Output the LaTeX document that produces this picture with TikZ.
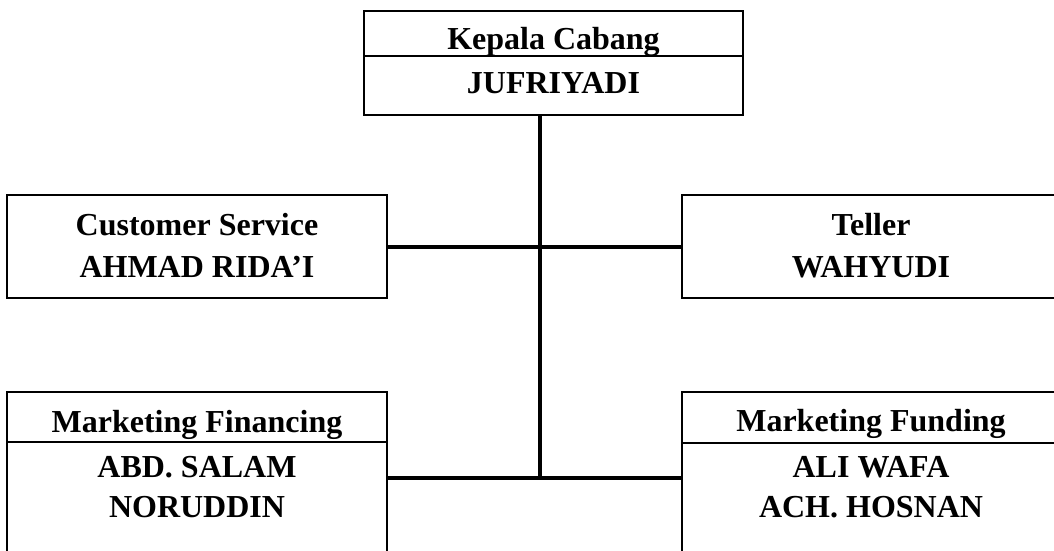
\documentclass[tikz,border=0pt]{standalone}
\usepackage{fontspec}
\setmainfont{Liberation Serif}
\usetikzlibrary{calc}

\begin{document}
\begin{tikzpicture}[x=1pt,y=-1pt,
		box/.style={draw,line width=1.6pt,inner sep=0pt,outer sep=0pt},
		link/.style={line width=4pt},
		lbl/.style={anchor=base,font=\bfseries\fontsize{32}{40}\selectfont,inner sep=0pt}]
		\useasboundingbox (0,0) rectangle (1054,551);
		\clip (0,0) rectangle (1054,551);
		% boxes
		\node[box,minimum width=379pt,minimum height=104pt] (kc) at (553.5,63) {};
		\node[box,minimum width=380pt,minimum height=103pt] (cs) at (197,246.5) {};
		\node[box,minimum width=378pt,minimum height=103pt] (teller) at (871,246.5) {};
		\node[box,minimum width=380pt,minimum height=172pt] (mfin) at (197,478) {};
		\node[box,minimum width=378pt,minimum height=172pt] (mfund) at (871,478) {};
		\draw[line width=1.6pt] ($(kc.north west)+(0,45)$)--($(kc.north east)+(0,45)$);
		\draw[line width=1.6pt] ($(mfin.north west)+(0,50)$)--($(mfin.north east)+(0,50)$);
		\draw[line width=1.6pt] ($(mfund.north west)+(0,51)$)--($(mfund.north east)+(0,51)$);
		% texts
		\node[lbl] (kc title) at (553.5,50) {Kepala Cabang};
		\node[lbl] (kc name) at (553.5,93) {JUFRIYADI};
		\node[lbl] (cs title) at (197,235) {Customer Service};
		\node[lbl] (cs name) at (197,277) {AHMAD RIDA’I};
		\node[lbl] (teller title) at (871,235) {Teller};
		\node[lbl] (teller name) at (871,277) {WAHYUDI};
		\node[lbl] (mfin title) at (197,432) {Marketing Financing};
		\node[lbl] (mfin name1) at (197,477) {ABD. SALAM};
		\node[lbl] (mfin name2) at (197,517) {NORUDDIN};
		\node[lbl] (mfund title) at (871,431) {Marketing Funding};
		\node[lbl] (mfund name1) at (871,477) {ALI WAFA};
		\node[lbl] (mfund name2) at (871,517) {ACH. HOSNAN};
		% lines
		\coordinate (hub) at (540,478);
		\draw[link] (kc.south -| hub)--(hub);
		\draw[link] (cs.east)--(teller.west);
		\draw[link] (mfin.east)--(mfund.west);
	\end{tikzpicture}
\end{document}
